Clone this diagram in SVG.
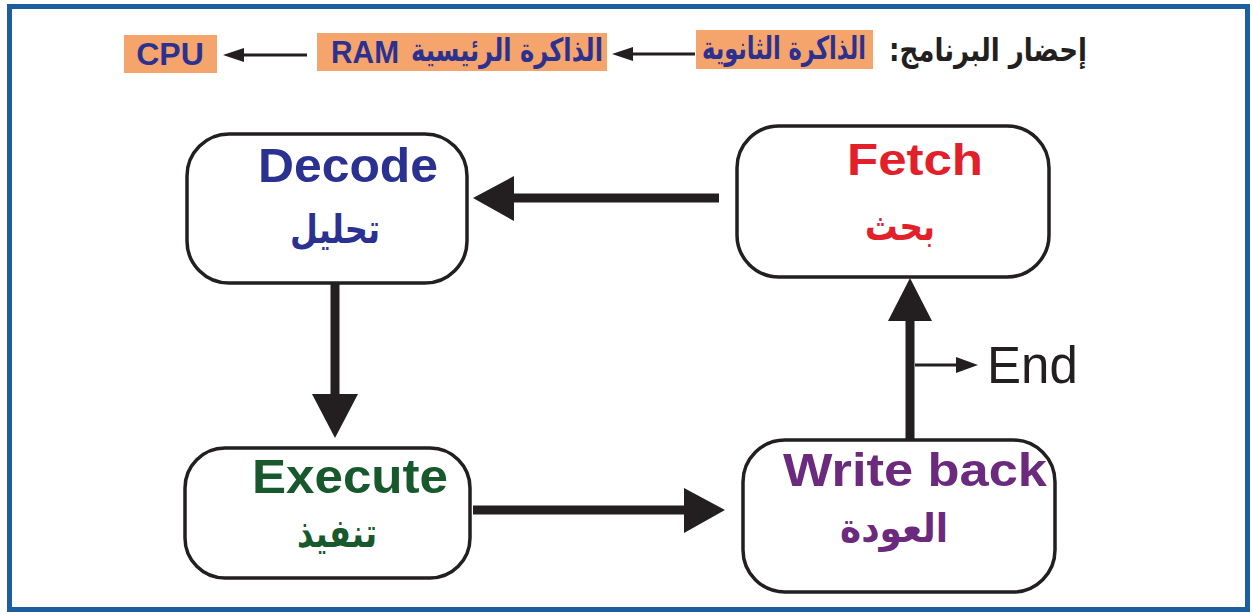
<svg xmlns="http://www.w3.org/2000/svg" width="1252" height="615" viewBox="0 0 1252 615">
<style>
.box{fill:#fff;stroke:#231f20;stroke-width:3.5}
.en{font-family:"Liberation Sans",Arial,sans-serif;font-weight:bold}
.ar{font-family:"DejaVu Sans",sans-serif;font-weight:bold}
.tag{fill:#f5a46c}
.navy{fill:#2b3190}
.thick{stroke:#231f20;stroke-width:9;fill:none}
.thin{stroke:#231f20;stroke-width:3;fill:none}
.head{fill:#231f20}
</style>
<rect x="0" y="0" width="1252" height="615" fill="#fff"/>
<rect x="9.5" y="6.5" width="1238" height="603" fill="#fff" stroke="#1b5f9e" stroke-width="5"/>

<g id="header">
  <rect class="tag" x="124" y="35" width="93" height="38"/>
  <text class="en navy" x="170" y="65" font-size="32" text-anchor="middle">CPU</text>
  <rect class="tag" x="317" y="33" width="290" height="38"/>
  <text class="en navy" x="331" y="63" font-size="32" textLength="68" lengthAdjust="spacingAndGlyphs">RAM</text>
  <text class="ar navy" x="507" y="61" font-size="32" text-anchor="middle" textLength="192" lengthAdjust="spacingAndGlyphs">الذاكرة الرئيسية</text>
  <rect class="tag" x="696" y="30" width="177" height="39"/>
  <text class="ar navy" x="784" y="59" font-size="32" text-anchor="middle" textLength="164" lengthAdjust="spacingAndGlyphs">الذاكرة الثانوية</text>
  <text class="ar" x="988" y="61" font-size="32" fill="#231f20" text-anchor="middle" textLength="198" lengthAdjust="spacingAndGlyphs">&#x200F;إحضار البرنامج:&#x200F;</text>
</g>

<g id="connectors">
  <line class="thin" x1="307" y1="55" x2="240" y2="55"/>
  <polygon class="head" points="223,55 244,48 244,62"/>
  <line class="thin" x1="695" y1="54" x2="628" y2="54"/>
  <polygon class="head" points="612,54 633,47 633,61"/>

  <line class="thick" x1="719" y1="198" x2="510" y2="198"/>
  <polygon class="head" points="473,198 514,176 514,221"/>
  <line class="thick" x1="335" y1="283" x2="335" y2="398"/>
  <polygon class="head" points="335,438 312,394 358,394"/>
  <line class="thick" x1="473" y1="510" x2="688" y2="510"/>
  <polygon class="head" points="725,510 684,488 684,533"/>
  <line class="thick" x1="910" y1="440" x2="910" y2="318"/>
  <polygon class="head" points="910,278 888,321 932,321"/>
  <line class="thin" x1="915" y1="365" x2="960" y2="365"/>
  <polygon class="head" points="978,365 956,357 956,373"/>
  <text x="987" y="383" font-family="Liberation Sans,Arial,sans-serif" font-size="51" fill="#231f20">End</text>
</g>

<g id="decode">
  <rect class="box" x="187" y="134" width="280" height="149" rx="42"/>
  <text class="en" x="258" y="182" font-size="48" fill="#2b3190" textLength="180" lengthAdjust="spacingAndGlyphs">Decode</text>
  <text class="ar" x="335" y="243" font-size="40" fill="#2b3190" text-anchor="middle" textLength="90" lengthAdjust="spacingAndGlyphs">تحليل</text>
</g>

<g id="fetch">
  <rect class="box" x="737" y="126" width="312" height="151" rx="42"/>
  <text class="en" x="847" y="175" font-size="44" fill="#e3202a" textLength="136" lengthAdjust="spacingAndGlyphs">Fetch</text>
  <text class="ar" x="900" y="240" font-size="40" fill="#e3202a" text-anchor="middle" textLength="70" lengthAdjust="spacingAndGlyphs">بحث</text>
</g>

<g id="execute">
  <rect class="box" x="185" y="448" width="285" height="130" rx="40"/>
  <text class="en" x="252" y="493" font-size="48" fill="#17592d" textLength="196" lengthAdjust="spacingAndGlyphs">Execute</text>
  <text class="ar" x="337" y="547" font-size="40" fill="#17592d" text-anchor="middle" textLength="80" lengthAdjust="spacingAndGlyphs">تنفيذ</text>
</g>

<g id="writeback">
  <rect class="box" x="743" y="440" width="312" height="152" rx="42"/>
  <text class="en" x="783" y="486" font-size="46" fill="#6c2a7e" textLength="264" lengthAdjust="spacingAndGlyphs">Write back</text>
  <text class="ar" x="894" y="542" font-size="40" fill="#6c2a7e" text-anchor="middle" textLength="108" lengthAdjust="spacingAndGlyphs">العودة</text>
</g>
</svg>
